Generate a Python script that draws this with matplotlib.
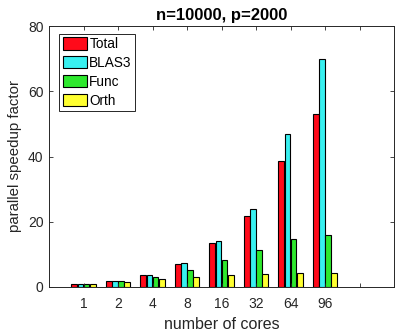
import numpy as np
from matplotlib import pyplot as plt

plt.rcParams['font.family'] = ['Liberation Sans', 'DejaVu Sans']

cores = ['1', '2', '4', '8', '16', '32', '64', '96', '']
series = ['Total', 'BLAS3', 'Func', 'Orth']
total = [1.0, 1.85, 3.6, 7.0, 13.4, 21.7, 38.6, 52.9]
blas3 = [1.0, 1.9, 3.6, 7.4, 14.2, 24.0, 46.9, 69.8]
func = [1.0, 1.8, 3.1, 5.3, 8.3, 11.2, 14.8, 16.0]
orth = [1.0, 1.5, 2.3, 3.1, 3.6, 4.0, 4.3, 4.4]
colors = ['#ff0a1a', '#38f0f0', '#2ee82e', '#ffff30']


def main():
    fig = plt.figure(figsize=(3.96, 3.33), dpi=100)
    ax = fig.add_axes([49 / 396, 46 / 333, 345 / 396, 261 / 333])
    x = np.arange(1, len(total) + 1)
    w = 0.165
    data = [total, blas3, func, orth]
    for i, (name, vals) in enumerate(zip(series, data)):
        ax.bar(x + (i - 1.5) * 0.18, vals, w, color=colors[i],
               edgecolor='black', linewidth=0.8, label=name)

    ax.set_xlim(0, 10)
    ax.set_ylim(0, 80)
    ax.set_xticks(np.arange(1, 10))
    ax.set_xticklabels(cores)
    ax.set_yticks([0, 20, 40, 60, 80])
    ax.tick_params(direction='in', top=True, right=True, labelsize=10,
                   colors='#262626', length=3, width=0.6, pad=4)
    ax.tick_params(axis='x', pad=7.5)
    for s in ax.spines.values():
        s.set_color('#262626')
        s.set_linewidth(0.7)
    ax.set_xlabel('number of cores', fontsize=11.5, color='#262626', labelpad=4)
    ax.set_ylabel('parallel speedup factor', fontsize=10.8, color='#262626', labelpad=4)
    ax.set_title('n=10000, p=2000', fontsize=12, fontweight='bold', pad=4)
    leg = ax.legend(loc='upper left', bbox_to_anchor=(0.03, 0.97),
                    fontsize=9.8, fancybox=False,
                    edgecolor='#262626', framealpha=1, borderpad=0.25,
                    handlelength=1.8, handleheight=1.0, handletextpad=0.15,
                    labelspacing=0.35, borderaxespad=0)
    leg.get_frame().set_linewidth(0.7)
    fig.savefig('out.png', dpi=100)


if __name__ == "__main__":
    main()
